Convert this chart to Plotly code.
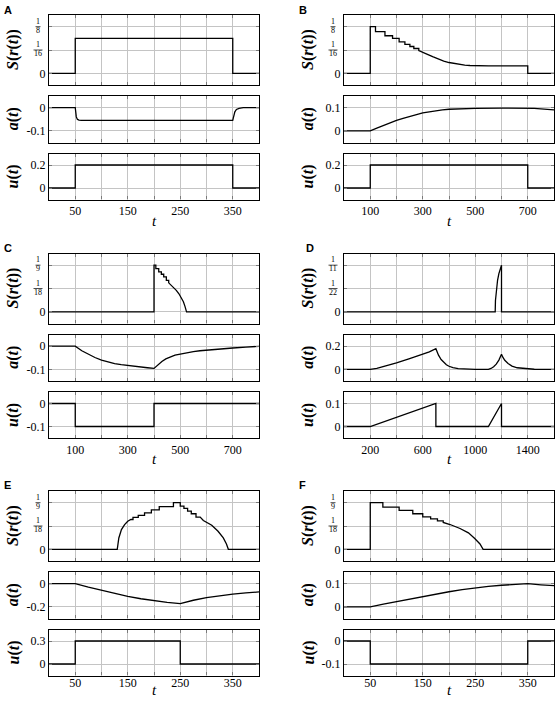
import plotly.graph_objects as go

W, H = 555, 702

# ---------------- data ----------------
# Panel A
A_S_t = [0, 50, 50, 350, 350, 400]
A_S = [0, 0, 0.09375, 0.09375, 0, 0]
A_a_t = [0, 50, 51, 52, 54, 57, 62, 100, 200, 300, 350, 351, 352, 354, 357, 362, 370, 400]
A_a = [0, 0, -0.02, -0.04, -0.05, -0.054, -0.055, -0.055, -0.055, -0.055, -0.055,
       -0.045, -0.032, -0.018, -0.008, -0.003, 0, 0]
A_u_t = [0, 50, 50, 350, 350, 400]
A_u = [0, 0, 0.2, 0.2, 0, 0]

# Panel B
B_S_t = [0, 100, 100, 120, 120, 156, 156, 185, 185, 210, 210, 232, 232, 251, 251, 266, 266,
         285, 285, 300, 320, 340, 360, 380, 400, 420, 440, 460, 480, 500, 550, 600, 700, 700, 800]
B_S = [0, 0, 0.125, 0.125, 0.1115, 0.1115, 0.1007, 0.1007, 0.0935, 0.0935, 0.0845, 0.0845,
       0.0773, 0.0773, 0.0719, 0.0719, 0.0665, 0.0665, 0.061, 0.057, 0.050, 0.044, 0.038,
       0.033, 0.029, 0.026, 0.0235, 0.022, 0.021, 0.0205, 0.020, 0.020, 0.020, 0, 0]
B_a_t = [0, 100, 125, 150, 175, 200, 225, 250, 275, 300, 325, 350, 375, 400, 450, 500, 600,
         700, 725, 750, 775, 800]
B_a = [0, 0, 0.012, 0.024, 0.035, 0.045, 0.054, 0.062, 0.070, 0.077, 0.082, 0.087, 0.090,
       0.093, 0.096, 0.097, 0.098, 0.098, 0.0965, 0.0945, 0.0925, 0.0905]
B_u_t = [0, 100, 100, 700, 700, 800]
B_u = [0, 0, 0.2, 0.2, 0, 0]

# Panel C
C_S_t = [0, 400, 400, 407, 407, 418, 418, 428, 428, 437, 437, 447, 447, 456, 456, 465, 475,
         485, 495, 505, 512, 518, 522, 524, 800]
C_S = [0, 0, 0.111, 0.111, 0.103, 0.103, 0.095, 0.095, 0.0895, 0.0895, 0.083, 0.083, 0.075,
       0.075, 0.069, 0.064, 0.058, 0.051, 0.043, 0.033, 0.024, 0.013, 0.006, 0, 0]
C_a_t = [0, 100, 125, 150, 175, 200, 225, 250, 275, 300, 325, 350, 375, 400, 410, 420, 430,
         445, 460, 480, 500, 525, 550, 575, 600, 650, 700, 750, 800]
C_a = [0, 0, -0.02, -0.036, -0.049, -0.06, -0.068, -0.075, -0.080, -0.084, -0.088, -0.091,
       -0.093, -0.096, -0.085, -0.075, -0.066, -0.055, -0.047, -0.039, -0.034, -0.028, -0.024,
       -0.020, -0.017, -0.012, -0.008, -0.004, -0.001]
C_u_t = [0, 100, 100, 400, 400, 800]
C_u = [0, 0, -0.1, -0.1, 0, 0]

# Panel D
D_S_t = [0, 1152, 1154, 1160, 1170, 1180, 1190, 1198, 1200, 1200, 1600]
D_S = [0, 0, 0.022, 0.042, 0.0615, 0.0746, 0.0844, 0.0909, 0.0909, 0, 0]
D_a_t = [0, 200, 250, 300, 400, 500, 600, 650, 700, 710, 720, 740, 760, 780, 800, 830, 870,
         920, 1000, 1100, 1120, 1140, 1160, 1180, 1200, 1210, 1225, 1250, 1280, 1320, 1380,
         1450, 1600]
D_a = [0, 0, 0.008, 0.022, 0.056, 0.093, 0.131, 0.151, 0.178, 0.148, 0.122, 0.085, 0.06,
       0.04, 0.027, 0.015, 0.007, 0.002, 0, 0, 0.008, 0.023, 0.045, 0.08, 0.13, 0.105, 0.078,
       0.05, 0.028, 0.014, 0.005, 0.001, 0]
D_u_t = [0, 200, 700, 700, 1100, 1200, 1200, 1600]
D_u = [0, 0, 0.1, 0, 0, 0.1, 0, 0]

# Panel E
E_S_t = [0, 130, 133, 138, 144, 150, 156, 160, 160, 170, 170, 182, 182, 195, 195, 210, 210,
         237, 237, 250, 250, 257, 257, 264, 264, 271, 271, 280, 280, 288, 294, 310, 322, 332,
         338, 341.6, 400]
E_S = [0, 0, 0.027, 0.047, 0.059, 0.067, 0.071, 0.071, 0.076, 0.076, 0.081, 0.081, 0.087,
       0.087, 0.094, 0.094, 0.1015, 0.1015, 0.1111, 0.1111, 0.103, 0.103, 0.0975, 0.0975,
       0.091, 0.091, 0.0847, 0.0847, 0.0767, 0.0767, 0.0687, 0.0575, 0.043, 0.0272, 0.0128,
       0, 0]
E_a_t = [0, 50, 75, 100, 125, 150, 175, 200, 225, 250, 262, 275, 300, 325, 350, 375, 400]
E_a = [0, 0, -0.03, -0.058, -0.085, -0.11, -0.13, -0.148, -0.162, -0.172, -0.157, -0.143,
       -0.12, -0.104, -0.091, -0.08, -0.071]
E_u_t = [0, 50, 50, 250, 250, 400]
E_u = [0, 0, 0.3, 0.3, 0, 0]

# Panel F
F_S_t = [0, 50, 50, 74, 74, 105, 105, 131, 131, 150, 150, 165, 165, 178, 178, 189, 189, 202,
         221, 237, 249, 259, 265, 400]
F_S = [0, 0, 0.1111, 0.1111, 0.1007, 0.1007, 0.0927, 0.0927, 0.0847, 0.0847, 0.0775, 0.0775,
       0.0727, 0.0727, 0.0679, 0.0679, 0.064, 0.0591, 0.0496, 0.0392, 0.0256, 0.0128, 0, 0]
F_a_t = [0, 50, 75, 100, 125, 150, 175, 200, 225, 250, 275, 300, 325, 350, 375, 400]
F_a = [0, 0, 0.012, 0.023, 0.034, 0.044, 0.055, 0.065, 0.074, 0.082, 0.088, 0.093, 0.097,
       0.100, 0.095, 0.091]
F_u_t = [0, 50, 50, 350, 350, 400]
F_u = [0, 0, -0.1, -0.1, 0, 0]

# axis settings per panel
X_MAX = {"A": 400, "B": 800, "C": 800, "D": 1600, "E": 400, "F": 400}
X_STEP = {"A": 50, "B": 100, "C": 100, "D": 200, "E": 50, "F": 50}
X_LABELS = {"A": [50, 150, 250, 350], "B": [100, 300, 500, 700], "C": [100, 300, 500, 700],
            "D": [200, 600, 1000, 1400], "E": [50, 150, 250, 350], "F": [50, 150, 250, 350]}
S_DEN = {"A": 8, "B": 8, "C": 9, "D": 11, "E": 9, "F": 9}
A_TICKS = {"A": [-0.1, 0], "B": [0, 0.1], "C": [-0.1, 0], "D": [0, 0.2], "E": [-0.2, 0], "F": [0, 0.1]}
U_TICKS = {"A": [0, 0.2], "B": [0, 0.2], "C": [-0.1, 0], "D": [0, 0.1], "E": [0, 0.3], "F": [-0.1, 0]}

DATA = {
    "A": [(A_S_t, A_S), (A_a_t, A_a), (A_u_t, A_u)],
    "B": [(B_S_t, B_S), (B_a_t, B_a), (B_u_t, B_u)],
    "C": [(C_S_t, C_S), (C_a_t, C_a), (C_u_t, C_u)],
    "D": [(D_S_t, D_S), (D_a_t, D_a), (D_u_t, D_u)],
    "E": [(E_S_t, E_S), (E_a_t, E_a), (E_u_t, E_u)],
    "F": [(F_S_t, F_S), (F_a_t, F_a), (F_u_t, F_u)],
}

# ---------------- layout geometry (window pixels) ----------------
COL_X = [(49, 259), (344, 554)]
ROW_TOP = [15, 253.5, 491]
SUB = [(0, 70), (81, 127.5), (138.5, 184.5)]
PANEL_POS = {"A": (0, 0), "B": (1, 0), "C": (0, 1), "D": (1, 1), "E": (0, 2), "F": (1, 2)}
LETTER_XY = {"A": (2, 2), "B": (297, 2), "C": (2, 240), "D": (304, 240), "E": (2, 477), "F": (297, 477)}
T_LABEL_Y = [221, 459, 690]
XLABEL_STANDOFF = [0, 0, -4]
Y_TITLE_X = [13, 308]
FRAC_X = [38, 333]

SERIF = "Liberation Serif, Times New Roman, DejaVu Serif, serif"
GRID = "#c4c4c4"
TICKC = "#7a7a7a"


def px(xp):
    return xp / W


def py(yp):
    return 1 - yp / H


fmt = lambda v: ("%g" % v)

fig = go.Figure()
layout = {}
annotations = []
shapes = []
n = 0
for name in ["A", "B", "C", "D", "E", "F"]:
    col, row = PANEL_POS[name]
    x0, x1 = COL_X[col]
    rt = ROW_TOP[row]
    xmax, xstep = X_MAX[name], X_STEP[name]
    gridvals = list(range(xstep, xmax, xstep))
    M = 1.0 / S_DEN[name]
    for k in range(3):
        n += 1
        yt, yb = rt + SUB[k][0], rt + SUB[k][1]
        xa = "xaxis" if n == 1 else f"xaxis{n}"
        ya = "yaxis" if n == 1 else f"yaxis{n}"
        xr = "x" if n == 1 else f"x{n}"
        yr = "y" if n == 1 else f"y{n}"
        t, v = DATA[name][k]
        fig.add_trace(go.Scatter(x=t, y=v, mode="lines", line=dict(color="black", width=1.3),
                                 xaxis=xr, yaxis=yr, showlegend=False, hoverinfo="skip"))
        common = dict(showgrid=True, gridcolor=GRID, gridwidth=1, zeroline=False,
                      showline=True, linecolor="black", linewidth=1.2, mirror="ticks",
                      ticks="inside", ticklen=3, tickcolor=TICKC, tickwidth=1,
                      tickfont=dict(family=SERIF, size=12, color="black"), fixedrange=True)
        layout[xa] = dict(common, domain=[px(x0), px(x1)], range=[0, xmax], anchor=yr,
                          tickmode="array", tickvals=gridvals,
                          ticktext=[str(g) if g in X_LABELS[name] else "" for g in gridvals],
                          showticklabels=(k == 2), ticklabelstandoff=XLABEL_STANDOFF[row])
        if k == 0:
            yvals = [0, M / 2, M]
            ytext = ["0", "", ""]
            yrange = [-0.25 * M, 1.25 * M]
        else:
            yvals = A_TICKS[name] if k == 1 else U_TICKS[name]
            ytext = [fmt(q) for q in yvals]
            d = yvals[1] - yvals[0]
            yrange = [yvals[0] - 0.5 * d, yvals[1] + 0.5 * d]
        layout[ya] = dict(common, domain=[py(yb), py(yt)], range=yrange, anchor=xr,
                          tickmode="array", tickvals=yvals, ticktext=ytext)
        title = ["<b><i>S</i>(<i>r</i>(<i>t</i>))</b>", "<b><i>a</i>(<i>t</i>)</b>",
                 "<b><i>u</i>(<i>t</i>)</b>"][k]
        annotations.append(dict(text=title, x=px(Y_TITLE_X[col]), y=py((yt + yb) / 2),
                                xref="paper", yref="paper", showarrow=False, textangle=-90,
                                font=dict(family=SERIF, size=16, color="black"),
                                xanchor="center", yanchor="middle"))
        if k == 0:
            for den in [S_DEN[name], 2 * S_DEN[name]]:
                val = 1.0 / den
                xc = FRAC_X[col]
                annotations.append(dict(text="1", x=px(xc), y=val, xref="paper", yref=yr,
                                        yshift=5.5, showarrow=False, xanchor="center",
                                        yanchor="middle",
                                        font=dict(family=SERIF, size=8, color="black")))
                annotations.append(dict(text=str(den), x=px(xc), y=val, xref="paper", yref=yr,
                                        yshift=-3.5, showarrow=False, xanchor="center",
                                        yanchor="middle",
                                        font=dict(family=SERIF, size=8, color="black")))
                hw = 2.5 if den < 10 else 4.5
                shapes.append(dict(type="line", xref="paper", yref=yr, x0=px(xc - hw),
                                   x1=px(xc + hw), y0=val, y1=val,
                                   line=dict(color="black", width=0.7)))
    annotations.append(dict(text="<i>t</i>", x=px((x0 + x1) / 2), y=py(T_LABEL_Y[row]),
                            xref="paper", yref="paper", showarrow=False,
                            font=dict(family=SERIF, size=15, color="black"),
                            xanchor="center", yanchor="middle"))
    lx, ly = LETTER_XY[name]
    annotations.append(dict(text="<b>%s</b>" % name, x=px(lx), y=py(ly), xref="paper",
                            yref="paper", showarrow=False, xanchor="left", yanchor="top",
                            font=dict(family="Liberation Sans, Arial, sans-serif", size=11,
                                      color="black")))

fig.update_layout(width=W, height=H, margin=dict(l=0, r=0, t=0, b=0),
                  paper_bgcolor="white", plot_bgcolor="white",
                  annotations=annotations, shapes=shapes, **layout)
# remove the page's default body margin so the 555x702 figure fills the window exactly
fig.write_html("out.html", config={"displayModeBar": False},
               post_script="document.body.style.margin='0';")
